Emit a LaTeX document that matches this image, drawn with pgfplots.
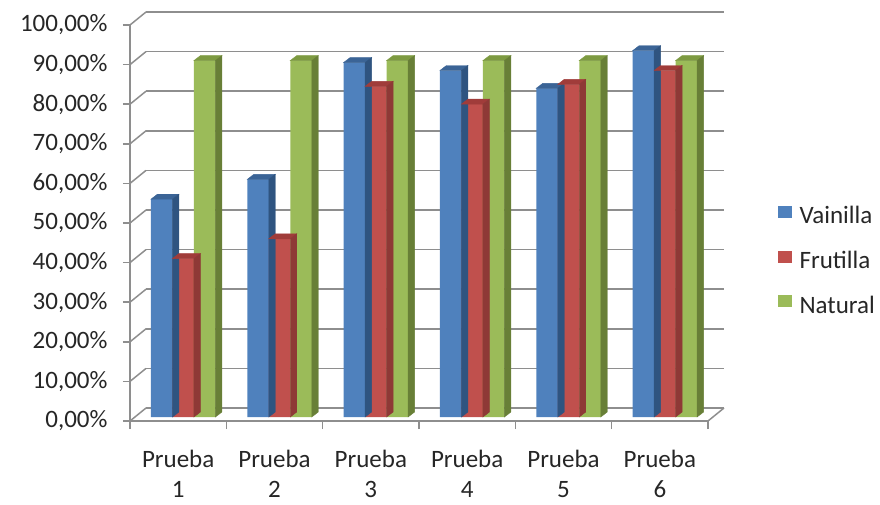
\documentclass[border=0pt]{standalone}
\usepackage{pgfplots}
\usepackage{pgfplotstable}
\pgfplotsset{compat=1.18}
\usepackage{fontspec}
\setmainfont{Carlito}

\definecolor{vblue}{HTML}{4F81BD}
\definecolor{vbluetop}{HTML}{3B6496}
\definecolor{vblueside}{HTML}{2F5480}
\definecolor{fred}{HTML}{C0504D}
\definecolor{fredtop}{HTML}{A03C3A}
\definecolor{fredside}{HTML}{8E3936}
\definecolor{ngreen}{HTML}{9BBB59}
\definecolor{ngreentop}{HTML}{7D9A41}
\definecolor{ngreenside}{HTML}{687F37}
\definecolor{wallgrid}{HTML}{8E8E8E}
\definecolor{labtext}{HTML}{262626}

\newcommand{\lab}{\fontsize{25}{30}\selectfont}

% results per test, in percent
\pgfplotstableread{
x vainilla frutilla natural
0 55   40   90
1 60   45   90
2 89.5 83.5 90
3 87.5 79   90
4 83   84   90
5 92.5 87.5 90
}\datos

% an empty mark: the scatter code below draws the faces itself
\pgfdeclareplotmark{nix}{}

\pgfplotsset{
  % top and side faces of a column, drawn at each data point
  % #1 = horizontal offset of the column, #2 = top colour, #3 = side colour
  faces/.style n args={3}{
    forget plot, only marks, mark=nix, scatter,
    visualization depends on={rawy \as \barval},
    scatter/@pre marker code/.code={%
      \pgfmathsetlengthmacro\barh{\barval*3.96pt}%
      \fill[#2] (#1-10.75pt,4pt) -- (#1+10.75pt,4pt) -- (#1+17.25pt,9pt)
                -- (#1-4.25pt,9pt) -- cycle;
      \fill[#3] (#1+10.75pt,4pt) -- (#1+17.25pt,9pt) -- (#1+17.25pt,9pt-\barh)
                -- (#1+10.75pt,4pt-\barh) -- cycle;
    },
    scatter/@post marker code/.code={},
  },
  front/.style n args={2}{
    ybar, bar width=21.5pt, bar shift=#1, yshift=4pt, draw=none, fill=#2,
    legend image code/.code={\fill[#2] (0pt,-6pt) rectangle (14pt,6pt);},
  },
}

\begin{document}
\begin{tikzpicture}
\useasboundingbox (-130pt,-83pt) rectangle (750pt,421pt);
\begin{axis}[
  at={(0,0)}, anchor=south west,
  scale only axis, width=578pt, height=396pt,
  clip=false,
  xmin=-0.5, xmax=5.5, ymin=0, ymax=100,
  axis x line*=bottom, axis y line*=left,
  axis line style={wallgrid, line width=1.5pt},
  xtick={0,...,5},
  xticklabels={Prueba\\1,Prueba\\2,Prueba\\3,Prueba\\4,Prueba\\5,Prueba\\6},
  minor xtick={-0.5,0.5,...,5.5},
  major x tick style={draw=none},
  minor x tick style={wallgrid, line width=1.5pt},
  minor tick length=8pt,
  ytick={0,10,...,100},
  yticklabels={{0,00\%},{10,00\%},{20,00\%},{30,00\%},{40,00\%},{50,00\%},
               {60,00\%},{70,00\%},{80,00\%},{90,00\%},{100,00\%}},
  major y tick style={wallgrid, line width=1.5pt},
  major tick length=7pt,
  tick align=outside,
  xticklabel style={align=center, font=\lab, text=labtext, anchor=north, yshift=-19pt},
  yticklabel style={font=\lab, text=labtext, anchor=east, xshift=-12pt},
  ymajorgrids,
  major grid style={wallgrid, line width=1.5pt, xshift=16pt, yshift=13pt},
  legend style={at={(1.12,0.405)}, anchor=west, draw=none, fill=none,
    font=\lab, text=labtext, row sep=22pt, inner sep=0pt,
    nodes={inner sep=2pt},
    /tikz/every odd column/.append style={column sep=6pt}},
  legend cell align=left,
]
% left wall and right floor edge
\pgfplotsinvokeforeach{0,10,...,100}{
  \draw[wallgrid, line width=1.5pt] (axis cs:-0.5,#1) -- ++(16pt,13pt);
}
\draw[wallgrid, line width=1.5pt] (axis cs:5.5,0) -- ++(16pt,13pt);

\addplot[front={-16.5pt}{vblue}] table[x=x, y=vainilla] {\datos};
\addlegendentry{Vainilla}
\addplot[faces={-16.5pt}{vbluetop}{vblueside}] table[x=x, y=vainilla] {\datos};

\addplot[front={5pt}{fred}] table[x=x, y=frutilla] {\datos};
\addlegendentry{Frutilla}
\addplot[faces={5pt}{fredtop}{fredside}] table[x=x, y=frutilla] {\datos};

\addplot[front={26.5pt}{ngreen}] table[x=x, y=natural] {\datos};
\addlegendentry{Natural}
\addplot[faces={26.5pt}{ngreentop}{ngreenside}] table[x=x, y=natural] {\datos};
\end{axis}
\end{tikzpicture}
\end{document}
